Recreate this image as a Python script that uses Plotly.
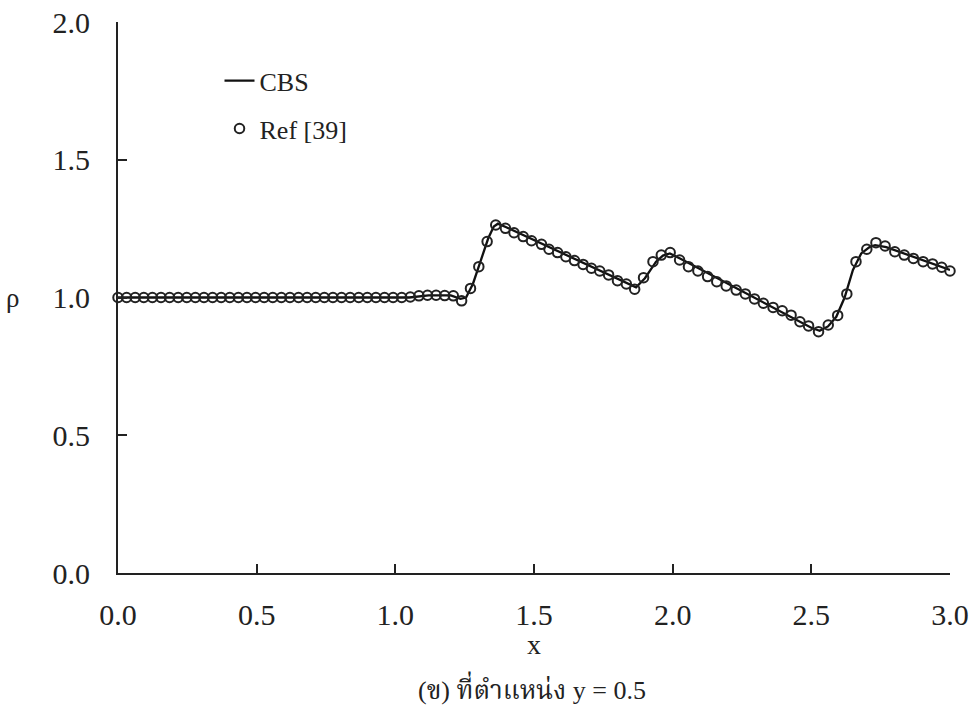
import plotly.graph_objects as go

# CBS solution (line), key points
cbs_x = [0.0, 1.05, 1.12, 1.20, 1.235, 1.255, 1.28, 1.31, 1.335, 1.355, 1.37, 1.40,
         1.85, 1.868, 1.90, 1.94, 1.965, 1.99, 2.03, 2.50, 2.53, 2.56, 2.59, 2.62,
         2.65, 2.68, 2.71, 2.73, 2.77, 3.0]
cbs_rho = [1.0, 1.0, 1.008, 1.008, 0.995, 1.0, 1.05, 1.14, 1.215, 1.258, 1.268, 1.255,
           1.045, 1.037, 1.07, 1.13, 1.152, 1.16, 1.14, 0.89, 0.879, 0.895, 0.93, 1.0,
           1.10, 1.16, 1.183, 1.19, 1.183, 1.10]

# Ref [39] (markers)
ref_x = [0.000, 0.031, 0.062, 0.093, 0.124, 0.155, 0.186, 0.217, 0.248, 0.279,
         0.310, 0.341, 0.372, 0.403, 0.434, 0.465, 0.496, 0.527, 0.558, 0.589,
         0.620, 0.651, 0.682, 0.713, 0.744, 0.775, 0.806, 0.837, 0.868, 0.899,
         0.930, 0.961, 0.992, 1.023, 1.054, 1.085, 1.116, 1.147, 1.178, 1.209,
         1.239, 1.271, 1.301, 1.331, 1.362, 1.397, 1.428, 1.461, 1.491, 1.527,
         1.554, 1.585, 1.615, 1.646, 1.677, 1.707, 1.737, 1.769, 1.801, 1.833,
         1.863, 1.895, 1.929, 1.959, 1.991, 2.025, 2.057, 2.091, 2.126, 2.159,
         2.193, 2.229, 2.262, 2.295, 2.327, 2.362, 2.395, 2.427, 2.459, 2.490,
         2.526, 2.561, 2.595, 2.628, 2.661, 2.700, 2.733, 2.766, 2.801, 2.835,
         2.868, 2.903, 2.937, 2.970, 3.000]
ref_rho = [1.000, 1.000, 1.000, 1.000, 1.000, 1.000, 1.000, 1.000, 1.000, 1.000,
           1.000, 1.000, 1.000, 1.000, 1.000, 1.000, 1.000, 1.000, 1.000, 1.000,
           1.000, 1.000, 1.000, 1.000, 1.000, 1.000, 1.000, 1.000, 1.000, 1.000,
           1.000, 1.000, 1.000, 1.000, 1.002, 1.006, 1.008, 1.008, 1.007, 1.006,
           0.988, 1.033, 1.112, 1.203, 1.263, 1.251, 1.235, 1.221, 1.206, 1.193,
           1.175, 1.163, 1.148, 1.134, 1.120, 1.106, 1.096, 1.082, 1.061, 1.049,
           1.030, 1.072, 1.130, 1.154, 1.163, 1.136, 1.112, 1.096, 1.076, 1.057,
           1.042, 1.027, 1.013, 0.995, 0.979, 0.964, 0.952, 0.936, 0.912, 0.897,
           0.876, 0.900, 0.935, 1.013, 1.130, 1.175, 1.199, 1.187, 1.166, 1.154,
           1.142, 1.130, 1.122, 1.110, 1.096]

x_ticks = [0.0, 0.5, 1.0, 1.5, 2.0, 2.5, 3.0]
y_ticks = [0.0, 0.5, 1.0, 1.5, 2.0]

SERIF = "Liberation Serif, 'Times New Roman', 'Noto Serif Thai', 'Noto Sans Thai', serif"
INK = "#222222"

fig = go.Figure()
fig.add_trace(go.Scatter(
    x=cbs_x, y=cbs_rho, mode="lines", name="CBS",
    line=dict(color="#111111", width=2.3), legendgroup="a", cliponaxis=False))
fig.add_trace(go.Scatter(
    x=ref_x, y=ref_rho, mode="markers", name="Ref [39]",
    marker=dict(symbol="circle-open", size=9.5, color=INK,
                line=dict(width=2, color=INK)),
    legendgroup="b", cliponaxis=False))

axis_common = dict(
    showline=True, linewidth=2, linecolor=INK, mirror=False,
    showgrid=False, zeroline=False, ticks="inside", ticklen=9, tickwidth=1.5,
    tickcolor=INK, tickfont=dict(family=SERIF, size=30, color=INK),
    automargin=False, ticklabeloverflow="allow",
)

fig.update_layout(
    width=980, height=726,
    margin=dict(l=118, r=30, t=22, b=153),
    paper_bgcolor="white", plot_bgcolor="white",
    font=dict(family=SERIF, color=INK),
    xaxis=dict(range=[0, 3], tickvals=x_ticks, ticktext=[f"{v:.1f}" for v in x_ticks],
               ticklabelstandoff=14, **axis_common),
    yaxis=dict(range=[0, 2], tickvals=y_ticks, ticktext=[f"{v:.1f}" for v in y_ticks],
               ticklabelstandoff=20, **axis_common),
    legend=dict(x=0.122, y=0.936, xanchor="left", yanchor="top",
                font=dict(family=SERIF, size=26, color=INK),
                bgcolor="rgba(0,0,0,0)", borderwidth=0, tracegroupgap=11,
                itemwidth=30),
    showlegend=True,
    annotations=[
        dict(text="ρ", xref="paper", yref="y", x=-0.1274, y=1.0, showarrow=False,
             xanchor="center", yanchor="middle",
             font=dict(family=SERIF, size=27, color=INK)),
        dict(text="x", xref="paper", yref="paper", x=0.5, y=-0.13, showarrow=False,
             xanchor="center", yanchor="middle",
             font=dict(family=SERIF, size=28, color=INK)),
        dict(text="(ข) ที่ตำแหน่ง y = 0.5", xref="paper", yref="paper", x=0.497, y=-0.2087,
             showarrow=False, xanchor="center", yanchor="middle",
             font=dict(family=SERIF, size=26, color=INK)),
    ],
)

fig.write_html("out.html", config={"displayModeBar": False},
               post_script="document.body.style.margin='0px';document.body.style.overflow='hidden';")
